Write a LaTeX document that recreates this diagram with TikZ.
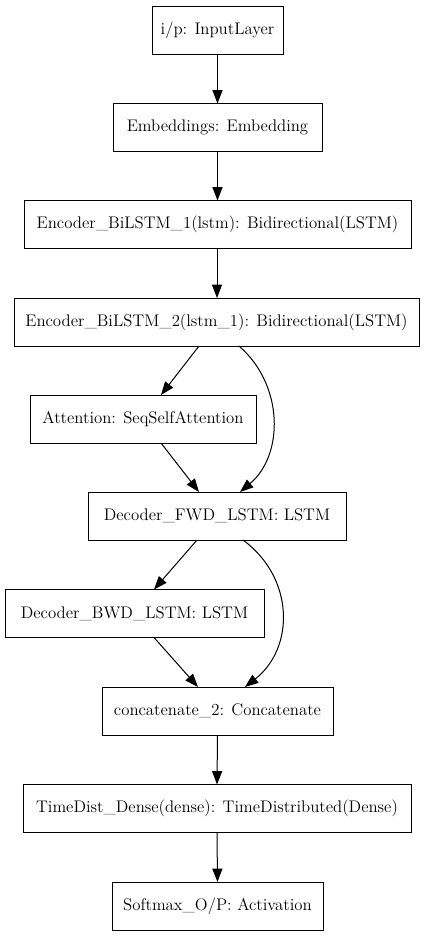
\documentclass[tikz,border=0pt]{standalone}
\usepackage{fontspec}
\usetikzlibrary{arrows.meta}
\begin{document}
\begin{tikzpicture}[x=0.75pt,y=-0.75pt,
  layer/.style={draw=black,line width=0.75pt,minimum height=36pt,inner sep=0pt,outer sep=0pt,font=\rmfamily\fontsize{12.6pt}{15pt}\selectfont},
  edge/.style={line width=0.75pt,-{Triangle[length=10pt,width=7.5pt]}}]
\useasboundingbox (0,0) rectangle (426,936);
\node[layer,minimum width=98.25pt]  (n1)  at (217.5,30)    {i/p: InputLayer};
\node[layer,minimum width=156.75pt] (n2)  at (217.5,127.5) {Embeddings: Embedding};
\node[layer,minimum width=290.25pt] (n3)  at (217.5,224.5) {Encoder\_BiLSTM\_1(lstm): Bidirectional(LSTM)};
\node[layer,minimum width=303.75pt] (n4)  at (216.5,322)   {Encoder\_BiLSTM\_2(lstm\_1): Bidirectional(LSTM)};
\node[layer,minimum width=169.5pt]  (n5)  at (143,419)     {Attention: SeqSelfAttention};
\node[layer,minimum width=193.5pt]  (n6)  at (217,516)     {Decoder\_FWD\_LSTM: LSTM};
\node[layer,minimum width=194.25pt] (n7)  at (134.5,613.5) {Decoder\_BWD\_LSTM: LSTM};
\node[layer,minimum width=173.25pt] (n8)  at (217.5,711)   {concatenate\_2: Concatenate};
\node[layer,minimum width=291pt]    (n9)  at (217,808.5)   {TimeDist\_Dense(dense): TimeDistributed(Dense)};
\node[layer,minimum width=158.25pt] (n10) at (217.5,906)   {Softmax\_O/P: Activation};
\draw[edge] (n1.south) -- (n2.north);
\draw[edge] (n2.south) -- (n3.north);
\draw[edge] ([xshift=-0.5*0.75pt]n3.south) -- ([xshift=0.5*0.75pt]n4.north);
\draw[edge] ([xshift=-17.5*0.75pt]n4.south) -- ([xshift=18*0.75pt]n5.north);
\draw[edge] ([xshift=22.5*0.75pt]n4.south) .. controls (284,385) and (284,455) .. ([xshift=23*0.75pt]n6.north);
\draw[edge] ([xshift=18*0.75pt]n5.south) -- ([xshift=-18*0.75pt]n6.north);
\draw[edge] ([xshift=-20*0.75pt]n6.south) -- ([xshift=19.5*0.75pt]n7.north);
\draw[edge] ([xshift=26*0.75pt]n6.south) .. controls (294.7,578) and (294.7,648) .. ([xshift=27.5*0.75pt]n8.north);
\draw[edge] ([xshift=19.5*0.75pt]n7.south) -- ([xshift=-19.5*0.75pt]n8.north);
\draw[edge] (n8.south) -- (n9.north);
\draw[edge] (n9.south) -- (n10.north);
\end{tikzpicture}
\end{document}
